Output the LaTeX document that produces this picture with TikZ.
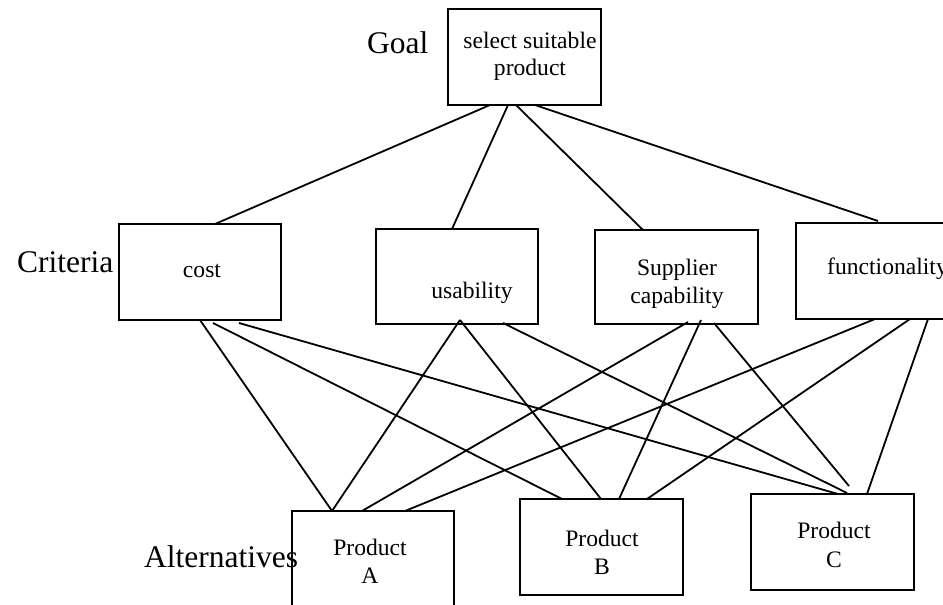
\documentclass[tikz,border=0pt]{standalone}
\usepackage{fontspec}
\setmainfont{Liberation Serif}
\begin{document}
\begin{tikzpicture}[x=1pt,y=-1pt,
  box/.style={draw, line width=2.1pt, inner sep=0pt, outer sep=0pt,
    minimum width=162pt, minimum height=96pt},
  tier/.style={font=\fontsize{31.5}{36}\selectfont, inner sep=0pt, anchor=base west},
  lbl/.style={font=\fontsize{23.6}{28}\selectfont, inner sep=0pt, anchor=base},
  conn/.style={line width=1.8pt}]
\useasboundingbox (0,0) rectangle (943,605);
\clip (0,0) rectangle (943,605);

% level names
\node[tier] (tgoal) at (367,53) {Goal};
\node[tier] (tcrit) at (17,272) {Criteria};
\node[tier] (talt) at (144,567) {Alternatives};

% boxes
\node[box, minimum width=153pt] (goal) at (524.5,57) {};
\node[box] (cost) at (200,272) {};
\node[box, minimum height=95pt] (usab) at (457,276.5) {};
\node[box, minimum width=163pt, minimum height=94pt] (supp) at (676.5,277) {};
\node[box] (func) at (877,271) {};
\node[box] (pa) at (373,559) {};
\node[box, minimum width=163pt] (pb) at (601.5,547) {};
\node[box, minimum width=163pt] (pc) at (832.5,542) {};

% box texts
\node[lbl] (goal1) at (530,48) {select suitable};
\node[lbl] (goal2) at (530,75) {product};
\node[lbl] (cost1) at (202,277) {cost};
\node[lbl] (usab1) at (472,298) {usability};
\node[lbl] (supp1) at (677,275) {Supplier};
\node[lbl] (supp2) at (677,303) {capability};
\node[lbl, anchor=base west] (func1) at (827,274) {functionality};
\node[lbl] (pa1) at (370,555) {Product};
\node[lbl] (pa2) at (370,583) {A};
\node[lbl] (pb1) at (602,546) {Product};
\node[lbl] (pb2) at (602,574) {B};
\node[lbl] (pc1) at (834,538) {Product};
\node[lbl] (pc2) at (834,567) {C};

% goal to criteria
\draw[conn] ([xshift=42pt]goal.south west) -- ([xshift=96pt]cost.north west);
\draw[conn] ([xshift=60pt]goal.south west) -- ([xshift=76pt]usab.north west);
\draw[conn] ([xshift=68pt]goal.south west) -- ([xshift=48pt]supp.north west);
\draw[conn] ([xshift=87pt]goal.south west) -- ([xshift=82pt,yshift=2pt]func.north west);

% cost to alternatives
\draw[conn] ([xshift=81pt]cost.south west) -- ([xshift=40pt]pa.north west);
\draw[conn] ([xshift=94pt,yshift=-3pt]cost.south west) -- ([xshift=42pt]pb.north west);
\draw[conn] ([xshift=120pt,yshift=-3pt]cost.south west) -- ([xshift=87pt]pc.north west);

% usability to alternatives
\draw[conn] ([xshift=84pt,yshift=4pt]usab.south west) -- ([xshift=40pt]pa.north west);
\draw[conn] ([xshift=84pt,yshift=4pt]usab.south west) -- ([xshift=81pt]pb.north west);
\draw[conn] ([xshift=127pt,yshift=1pt]usab.south west) -- ([xshift=96pt,yshift=1pt]pc.north west);

% supplier capability to alternatives
\draw[conn] ([xshift=93pt,yshift=2pt]supp.south west) -- ([xshift=70pt]pa.north west);
\draw[conn] ([xshift=106pt,yshift=4pt]supp.south west) -- ([xshift=99pt]pb.north west);
\draw[conn] ([xshift=119pt,yshift=1pt]supp.south west) -- ([xshift=98pt,yshift=8pt]pc.north west);

% functionality to alternatives
\draw[conn] ([xshift=79pt]func.south west) -- ([xshift=113pt]pa.north west);
\draw[conn] ([xshift=114pt]func.south west) -- ([xshift=127pt]pb.north west);
\draw[conn] ([xshift=132pt]func.south west) -- ([xshift=116pt]pc.north west);
\end{tikzpicture}
\end{document}
